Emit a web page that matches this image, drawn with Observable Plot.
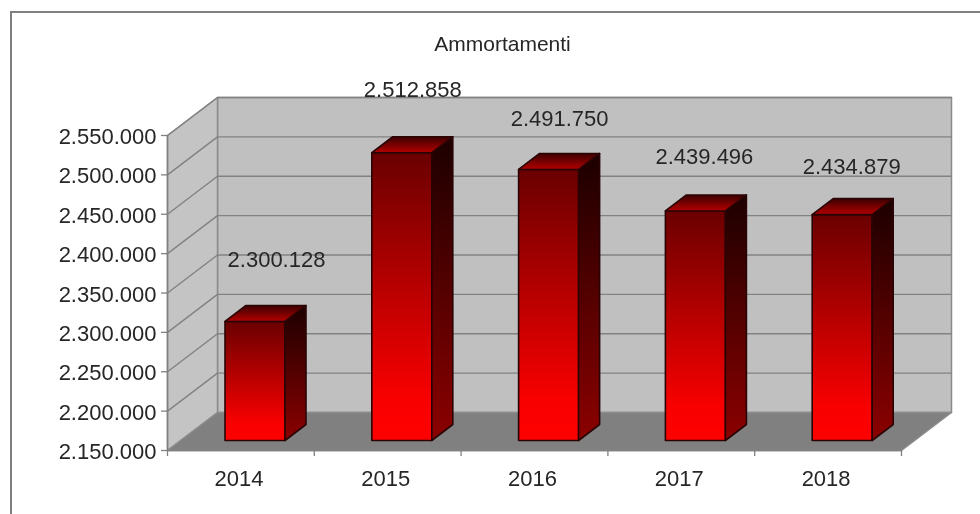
<!DOCTYPE html>
<html>
<head>
<meta charset="utf-8">
<script src="https://cdn.jsdelivr.net/npm/d3@7"></script>
<script src="https://cdn.jsdelivr.net/npm/@observablehq/plot@0.6"></script>
<style>
html,body{margin:0;padding:0;background:#fff;overflow:hidden}
#wrap{position:relative;width:980px;height:514px;overflow:hidden}
#wrap svg{position:absolute;left:0;top:0;background:transparent;filter:blur(0.35px)}
#frame{position:absolute;left:10px;top:11px;right:-4px;bottom:-4px;border:2px solid #808080;filter:blur(0.35px)}
</style>
</head>
<body>
<div id="wrap"><div id="frame"></div></div>
<script>
const years = ["2014", "2015", "2016", "2017", "2018"];
const amounts = [2300128, 2512858, 2491750, 2439496, 2434879];
const yTicks = [2150000, 2200000, 2250000, 2300000, 2350000, 2400000, 2450000, 2500000, 2550000];
const chartTitle = "Ammortamenti";

// Layout helpers: convert pixel offsets of the oblique 3D view to data units
const W = 980, H = 514, L = 167, R = 901, T = 135, B = 450;
const ux = years.length / (R - L);
const uy = (yTicks[yTicks.length - 1] - yTicks[0]) / (B - T);
const base = yTicks[0], topV = yTicks[yTicks.length - 1], n = years.length;
const P = (i, v, px = 0, py = 0) => ({x: i + px * ux, y: v + py * uy});
const depthX = 50, depthY = 38;

const fmt = d3.formatLocale({decimal: ",", thousands: ".", grouping: [3], currency: ["", ""]}).format(",d");

// faces
const poly = (pts) => pts.concat([pts[0]]);
const backWall = poly([P(0, base, depthX, depthY), P(n, base, depthX, depthY), P(n, topV, depthX, depthY), P(0, topV, depthX, depthY)]);
const sideWall = poly([P(0, base), P(0, base, depthX, depthY), P(0, topV, depthX, depthY), P(0, topV)]);
const floor = poly([P(0, base), P(n, base), P(n, base, depthX, depthY), P(0, base, depthX, depthY)]);
const gridLines = yTicks.slice(1).flatMap(v => [
  {...P(0, v), k: v}, {...P(0, v, depthX, depthY), k: v}, {...P(n, v, depthX, depthY), k: v}
]);

const barL = 57.5, barW = 60, barLift = 10, bdx = 21, bdy = 16, barStretch = 1.007;
const front = [], side = [], top_ = [];
amounts.forEach((a, i) => {
  const v = base + (a - base) * barStretch;
  const l = (px, py, val) => P(i, val, barL + px, barLift + py);
  front.push(...poly([l(0, 0, base), l(barW, 0, base), l(barW, 0, v), l(0, 0, v)]).map(d => ({...d, k: i})));
  side.push(...poly([l(barW, 0, base), l(barW + bdx, bdy, base), l(barW + bdx, bdy, v), l(barW, 0, v)]).map(d => ({...d, k: i})));
  top_.push(...poly([l(0, 0, v), l(barW, 0, v), l(barW + bdx, bdy, v), l(bdx, bdy, v)]).map(d => ({...d, k: i})));
});

// label placement relative to each bar
const labelDX = [109, 98.5, 98.5, 96.5, 97];
const labelLift = [72, 75, 62, 66, 59];
const labels = amounts.map((v, i) => ({...P(i, v, labelDX[i], labelLift[i]), t: fmt(v)}));

const defs = () => {
  const g = document.createElementNS("http://www.w3.org/2000/svg", "defs");
  g.innerHTML = `
  <linearGradient id="gFront" x1="0" y1="0" x2="0" y2="1">
    <stop offset="0" stop-color="#6a0000"/><stop offset="0.85" stop-color="#f80000"/><stop offset="1" stop-color="#ff0000"/>
  </linearGradient>
  <linearGradient id="gSide" x1="0" y1="0" x2="0" y2="1">
    <stop offset="0" stop-color="#1c0000"/><stop offset="1" stop-color="#8c0000"/>
  </linearGradient>
  <linearGradient id="gTop" x1="0" y1="0" x2="0" y2="1">
    <stop offset="0" stop-color="#3c0000"/><stop offset="1" stop-color="#b40000"/>
  </linearGradient>`;
  return g;
};

const barStroke = {stroke: "#2a0404", strokeWidth: 1.6, strokeLinejoin: "round", z: "k"};
const textColor = "#262626";

const chart = Plot.plot({
  width: W, height: H,
  marginLeft: L, marginRight: W - R, marginTop: T, marginBottom: H - B,
  style: {fontFamily: "'Liberation Sans', Arial, sans-serif", fontSize: "22px", background: "transparent", overflow: "visible"},
  x: {domain: [0, n], axis: null},
  y: {domain: [base, topV], axis: null},
  marks: [
    defs,
    Plot.line(backWall, {x: "x", y: "y", fill: "#c0c0c0", stroke: "#8a8a8a", strokeWidth: 1.5}),
    Plot.line(sideWall, {x: "x", y: "y", fill: "#c4c4c4", stroke: "#8a8a8a", strokeWidth: 1.5}),
    Plot.line(gridLines, {x: "x", y: "y", z: "k", stroke: "#828282", strokeWidth: 1.4}),
    Plot.line(floor, {x: "x", y: "y", fill: "#808080", stroke: "#8c8c8c", strokeWidth: 1.4}),
    Plot.line(front, {x: "x", y: "y", fill: "url(#gFront)", ...barStroke}),
    Plot.line(side, {x: "x", y: "y", fill: "url(#gSide)", ...barStroke}),
    Plot.line(top_, {x: "x", y: "y", fill: "url(#gTop)", ...barStroke}),
    Plot.axisY({ticks: yTicks, tickFormat: () => "", tickSize: 6, stroke: "#808080", strokeWidth: 1.3, label: null, anchor: "left"}),
    Plot.axisY({ticks: yTicks, tickFormat: fmt, tickSize: 0, tickPadding: 11, dy: 1.5, fill: textColor, label: null, fontSize: 22, anchor: "left"}),
    Plot.ruleX([0], {y1: base, y2: topV, stroke: "#808080", strokeWidth: 1.5}),
    Plot.ruleY([base], {stroke: "#808080", strokeWidth: 1.5}),
    Plot.axisX({ticks: d3.range(n + 1), tickFormat: () => "", tickSize: 6, stroke: "#808080", strokeWidth: 1.3, label: null}),
    Plot.axisX({ticks: years.map((_, i) => i + 0.5), tickFormat: d => years[Math.floor(d)], tickSize: 0, tickPadding: 20, dx: -2, fill: textColor, label: null, fontSize: 22}),
    Plot.text(labels, {x: "x", y: "y", text: "t", fill: textColor, fontSize: 22}),
    Plot.text([chartTitle], {frameAnchor: "top", dx: -32, dy: -91, fill: textColor, fontSize: 21, lineAnchor: "middle", text: d => d})
  ]
});
document.getElementById("wrap").append(chart);
</script>
</body>
</html>
